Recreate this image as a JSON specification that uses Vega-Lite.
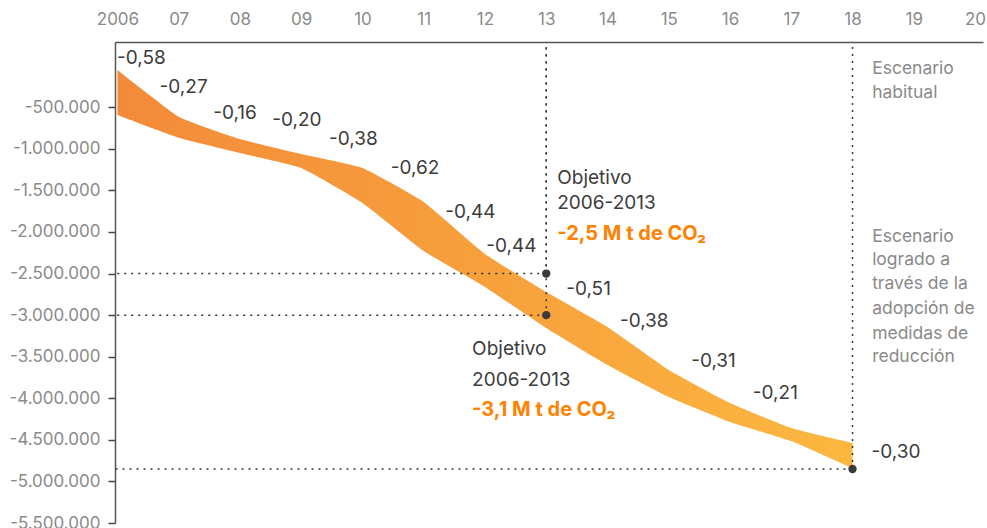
{
  "$schema": "https://vega.github.io/schema/vega-lite/v6.json",
  "width": 868,
  "height": 481,
  "autosize": {"type": "none"},
  "padding": {"left": 115, "top": 42, "right": 4, "bottom": 5},
  "background": "white",
  "config": {"view": {"stroke": null}, "font": "Inter"},
  "datasets": {
    "band": [
      {"year": 2006, "upper": -52000, "lower": -593000},
      {"year": 2007, "upper": -613000, "lower": -866000},
      {"year": 2008, "upper": -882000, "lower": -1050000},
      {"year": 2009, "upper": -1062000, "lower": -1230000},
      {"year": 2010, "upper": -1230000, "lower": -1651000},
      {"year": 2011, "upper": -1639000, "lower": -2229000},
      {"year": 2012, "upper": -2265000, "lower": -2661000},
      {"year": 2013, "upper": -2722000, "lower": -3155000},
      {"year": 2014, "upper": -3143000, "lower": -3600000},
      {"year": 2015, "upper": -3660000, "lower": -3985000},
      {"year": 2016, "upper": -4057000, "lower": -4285000},
      {"year": 2017, "upper": -4358000, "lower": -4515000},
      {"year": 2018, "upper": -4538000, "lower": -4843000}
    ],
    "labels": [
      {"year": 2006.39, "value": 92500, "label": "-0,58"},
      {"year": 2007.08, "value": -262000, "label": "-0,27"},
      {"year": 2007.92, "value": -568000, "label": "-0,16"},
      {"year": 2008.93, "value": -653000, "label": "-0,20"},
      {"year": 2009.85, "value": -881000, "label": "-0,38"},
      {"year": 2010.86, "value": -1230000, "label": "-0,62"},
      {"year": 2011.76, "value": -1755000, "label": "-0,44"},
      {"year": 2012.43, "value": -2167000, "label": "-0,44"},
      {"year": 2013.69, "value": -2684000, "label": "-0,51"},
      {"year": 2014.6, "value": -3068000, "label": "-0,38"},
      {"year": 2015.73, "value": -3549000, "label": "-0,31"},
      {"year": 2016.74, "value": -3934000, "label": "-0,21"},
      {"year": 2018.71, "value": -4649000, "label": "-0,30"}
    ],
    "targets": [
      {"year": 2013, "value": -2500000},
      {"year": 2013, "value": -3000000},
      {"year": 2018, "value": -4850000}
    ],
    "objText": [
      {"year": 2013.18, "value": -1351000, "text": "Objetivo"},
      {"year": 2013.18, "value": -1651000, "text": "2006-2013"},
      {"year": 2011.79, "value": -3407000, "text": "Objetivo"},
      {"year": 2011.79, "value": -3780000, "text": "2006-2013"}
    ],
    "objValue": [
      {"year": 2013.18, "value": -2024000, "text": "-2,5 M t de CO₂"},
      {"year": 2011.79, "value": -4141000, "text": "-3,1 M t de CO₂"}
    ],
    "notes": [
      {"year": 2018.32, "value": -40000, "text": "Escenario"},
      {"year": 2018.32, "value": -330000, "text": "habitual"},
      {"year": 2018.32, "value": -2066000, "text": "Escenario"},
      {"year": 2018.32, "value": -2337000, "text": "logrado a"},
      {"year": 2018.32, "value": -2626000, "text": "través de la"},
      {"year": 2018.32, "value": -2926000, "text": "adopción de"},
      {"year": 2018.32, "value": -3227000, "text": "medidas de"},
      {"year": 2018.32, "value": -3509000, "text": "reducción"}
    ]
  },
  "layer": [
    {
      "data": {"name": "band"},
      "mark": {
        "type": "area",
        "interpolate": "cardinal",
        "tension": 0.6,
        "fill": {
          "gradient": "linear", "x1": 0, "y1": 0, "x2": 1, "y2": 0,
          "stops": [
            {"offset": 0, "color": "#F38A3A"},
            {"offset": 0.5, "color": "#F7A03C"},
            {"offset": 1, "color": "#FCB840"}
          ]
        }
      },
      "encoding": {
        "x": {
          "field": "year", "type": "quantitative",
          "scale": {"domain": [2005.96, 2020.13], "nice": false, "zero": false},
          "axis": {
            "orient": "top", "title": null, "grid": false,
            "values": [2006, 2007, 2008, 2009, 2010, 2011, 2012, 2013, 2014, 2015, 2016, 2017, 2018, 2019, 2020],
            "labelExpr": "datum.value == 2006 ? '2006' : slice(toString(datum.value), 2)",
            "ticks": false, "labelPadding": 14, "labelFontSize": 17, "labelColor": "#8a8a8a",
            "labelFont": "Inter", "domainColor": "#555555", "domainWidth": 1.5,
            "labelFlush": false, "labelOverlap": false
          }
        },
        "y": {
          "field": "upper", "type": "quantitative",
          "scale": {"domain": [-5500000, 285000], "nice": false, "zero": false},
          "axis": {
            "title": null, "grid": false,
            "values": [-500000, -1000000, -1500000, -2000000, -2500000, -3000000, -3500000, -4000000, -4500000, -5000000, -5500000],
            "labelExpr": "'-' + replace(format(abs(datum.value), ','), regexp(',', 'g'), '.')",
            "tickSize": 7, "tickColor": "#444444", "tickWidth": 1.5, "labelPadding": 8,
            "labelFontSize": 17, "labelColor": "#8a8a8a", "labelFont": "Inter",
            "domainColor": "#555555", "domainWidth": 1.5, "labelFlush": false, "labelOverlap": false
          }
        },
        "y2": {"field": "lower"}
      }
    },
    {
      "data": {"name": "targets"},
      "mark": {"type": "rule", "color": "#333333", "strokeWidth": 1.5, "strokeDash": [2, 5]},
      "encoding": {
        "x": {"field": "year", "type": "quantitative", "title": null},
        "y": {"field": "value", "type": "quantitative", "title": null},
        "y2": {"value": 0}
      }
    },
    {
      "data": {"name": "targets"},
      "mark": {"type": "rule", "color": "#333333", "strokeWidth": 1.5, "strokeDash": [2, 5]},
      "encoding": {
        "x": {"field": "year", "type": "quantitative", "title": null},
        "x2": {"value": 0},
        "y": {"field": "value", "type": "quantitative", "title": null}
      }
    },
    {
      "data": {"name": "targets"},
      "mark": {"type": "point", "filled": true, "color": "#3a3a3a", "size": 70, "opacity": 1},
      "encoding": {
        "x": {"field": "year", "type": "quantitative", "title": null},
        "y": {"field": "value", "type": "quantitative", "title": null}
      }
    },
    {
      "data": {"name": "labels"},
      "mark": {"type": "text", "fontSize": 19, "color": "#3c3c3c", "align": "center", "baseline": "middle", "font": "Inter"},
      "encoding": {
        "x": {"field": "year", "type": "quantitative", "title": null},
        "y": {"field": "value", "type": "quantitative", "title": null},
        "text": {"field": "label"}
      }
    },
    {
      "data": {"name": "objText"},
      "mark": {"type": "text", "fontSize": 19, "color": "#3c3c3c", "align": "left", "baseline": "middle", "font": "Inter"},
      "encoding": {
        "x": {"field": "year", "type": "quantitative", "title": null},
        "y": {"field": "value", "type": "quantitative", "title": null},
        "text": {"field": "text"}
      }
    },
    {
      "data": {"name": "objValue"},
      "mark": {"type": "text", "fontSize": 20, "fontWeight": "bold", "color": "#FF8200", "align": "left", "baseline": "middle", "font": "Inter"},
      "encoding": {
        "x": {"field": "year", "type": "quantitative", "title": null},
        "y": {"field": "value", "type": "quantitative", "title": null},
        "text": {"field": "text"}
      }
    },
    {
      "data": {"name": "notes"},
      "mark": {"type": "text", "fontSize": 17.5, "color": "#8a8a8a", "align": "left", "baseline": "middle", "font": "Inter"},
      "encoding": {
        "x": {"field": "year", "type": "quantitative", "title": null},
        "y": {"field": "value", "type": "quantitative", "title": null},
        "text": {"field": "text"}
      }
    }
  ]
}
